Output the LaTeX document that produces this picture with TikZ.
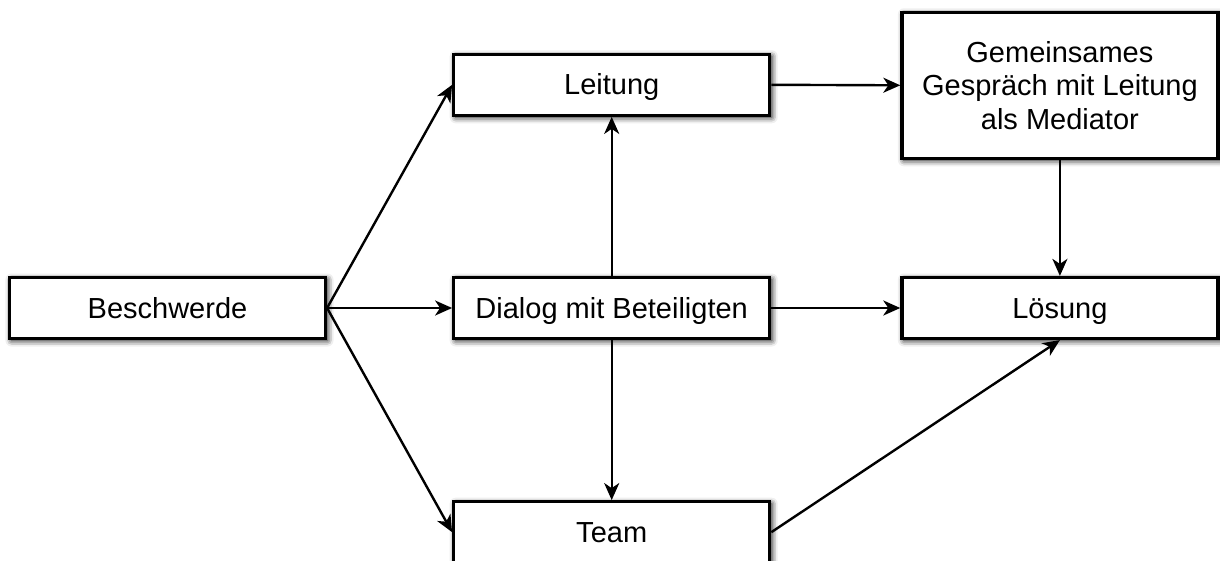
\documentclass[tikz,border=0pt]{standalone}
\usepackage{fontspec}
\setmainfont{Liberation Sans}
\usetikzlibrary{arrows.meta, positioning, shadows.blur}

\begin{document}
\begin{tikzpicture}[node distance=125pt, auto,
    box/.style={draw, rectangle, line width=3.2pt, fill=white, minimum width=316pt, minimum height=61pt,
        align=center, font=\fontsize{29}{33.5}\selectfont,
        blur shadow={shadow xshift=2pt, shadow yshift=-2pt, shadow blur radius=6pt, shadow opacity=100}},
    onebox/.style={box, text height=24pt, text depth=4pt},
    flow/.style={-{Stealth[length=17pt, width=15pt, inset=5pt]}, line width=2.4pt}]
    \useasboundingbox (-167.5pt,-252pt) rectangle (1052.5pt,308pt);

    \node[onebox] (beschwerde) at (0,0) {Beschwerde};
    \node[onebox, right=125pt of beschwerde] (dialog) {Dialog mit Beteiligten};
    \node[onebox, above=159pt of dialog] (leitung) {Leitung};
    \node[onebox, below=160pt of dialog] (team) {Team};
    \node[onebox, right=129pt of dialog] (loesung) {Lösung};
    \node[box, minimum height=146pt, above=116pt of loesung] (gespraech) {Gemeinsames\\Gespräch mit Leitung\\als Mediator};

    \draw[flow] (beschwerde.east) -- (leitung.west);
    \draw[flow] (beschwerde.east) -- (dialog.west);
    \draw[flow] (beschwerde.east) -- (team.west);
    \draw[flow] (dialog.north) -- (leitung.south);
    \draw[flow] (dialog.south) -- (team.north);
    \draw[flow] (dialog.east) -- (loesung.west);
    \draw[flow] (leitung.east) -- (gespraech.west);
    \draw[flow] (gespraech.south) -- (loesung.north);
    \draw[flow] (team.east) -- (loesung.south);
\end{tikzpicture}
\end{document}
